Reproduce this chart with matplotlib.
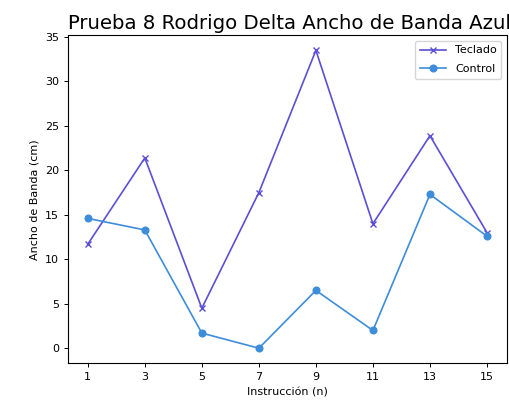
import matplotlib
matplotlib.use("Agg")
import matplotlib.pyplot as plt

instruccion = [1, 3, 5, 7, 9, 11, 13, 15]
teclado = [11.7, 21.4, 4.5, 17.5, 33.5, 14.0, 23.9, 13.0]
control = [14.6, 13.3, 1.7, 0.0, 6.5, 2.0, 17.3, 12.6]

fig = plt.figure(figsize=(5.10, 4.03), dpi=100)
ax = fig.add_axes([0.133, 0.099, 0.861, 0.813])

ax.plot(instruccion, teclado, color="#5a4fd6", marker="x", markersize=4.8,
        linewidth=1.2, label="Teclado")
ax.plot(instruccion, control, color="#3d8ddb", marker="o", markersize=4.8,
        linewidth=1.2, label="Control")

for side in ax.spines.values():
    side.set_linewidth(0.8)

ax.set_xticks(instruccion)
ax.tick_params(labelsize=8, length=2.8, width=0.7)
ax.set_xlabel("Instrucción (n)", fontsize=8)
ax.set_ylabel("Ancho de Banda (cm)", fontsize=8)
ax.set_title("Prueba 8 Rodrigo Delta Ancho de Banda Azul", fontsize=14.2,
             loc="left", pad=5)
ax.legend(fontsize=8, loc="upper right", labelspacing=0.8, handlelength=2.4)

fig.savefig("out.png", dpi=100)
